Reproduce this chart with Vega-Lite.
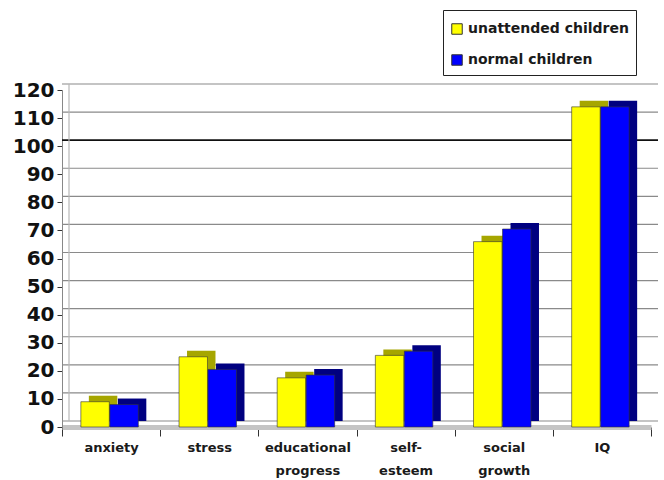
{
  "$schema": "https://vega.github.io/schema/vega-lite/v6.json",
  "width": 589,
  "height": 337,
  "autosize": {"type": "none"},
  "padding": {"left": 62, "top": 90, "right": 13, "bottom": 53},
  "background": "white",
  "config": {
    "view": {"stroke": null},
    "font": "Liberation Sans"
  },
  "datasets": {
    "bars": [
      {"category": "anxiety", "group": "unattended children", "value": 9},
      {"category": "anxiety", "group": "normal children", "value": 8},
      {"category": "stress", "group": "unattended children", "value": 25},
      {"category": "stress", "group": "normal children", "value": 20.5},
      {"category": "educational progress", "group": "unattended children", "value": 17.5},
      {"category": "educational progress", "group": "normal children", "value": 18.5},
      {"category": "self-esteem", "group": "unattended children", "value": 25.5},
      {"category": "self-esteem", "group": "normal children", "value": 27},
      {"category": "social growth", "group": "unattended children", "value": 66},
      {"category": "social growth", "group": "normal children", "value": 70.5},
      {"category": "IQ", "group": "unattended children", "value": 114},
      {"category": "IQ", "group": "normal children", "value": 114}
    ],
    "grid": [
      {"value": 0}, {"value": 10}, {"value": 20}, {"value": 30}, {"value": 40}, {"value": 50}, {"value": 60},
      {"value": 70}, {"value": 80}, {"value": 90}, {"value": 110}, {"value": 120}
    ]
  },
  "encoding": {
    "y": {
      "field": "value",
      "type": "quantitative",
      "scale": {"domain": [0, 120], "nice": false},
      "axis": {
        "title": null,
        "values": [0, 10, 20, 30, 40, 50, 60, 70, 80, 90, 100, 110, 120],
        "labelOverlap": false,
        "grid": false,
        "labelFont": "DejaVu Sans",
        "labelFontSize": 20,
        "labelFontWeight": "bold",
        "labelColor": "#111111",
        "labelPadding": 3,
        "tickSize": 5,
        "tickColor": "#333333",
        "domainColor": "#888888"
      }
    }
  },
  "layer": [
    {
      "data": {"name": "grid"},
      "mark": {"type": "rule", "color": "#8a8a8a", "strokeWidth": 1.2, "yOffset": -6, "xOffset": 7}
    },
    {
      "data": {"values": [{"value": 100}]},
      "mark": {"type": "rule", "color": "#111111", "strokeWidth": 1.8, "yOffset": -6, "xOffset": 7}
    },
    {
      "data": {"values": [{"category": "anxiety", "value": 0, "top": 120}]},
      "mark": {"type": "rule", "color": "#b8b8b8", "strokeWidth": 1.2, "xOffset": 7, "yOffset": -6, "y2Offset": -6},
      "encoding": {
        "x": {"field": "category", "type": "nominal", "bandPosition": 0, "sort": ["anxiety", "stress", "educational progress", "self-esteem", "social growth", "IQ"]},
        "y2": {"field": "top"}
      }
    },
    {
      "data": {"name": "bars"},
      "transform": [{"filter": "datum.group === 'unattended children'"}],
      "mark": {"type": "bar", "width": {"band": 0.29}, "xOffset": -8, "yOffset": -6, "y2Offset": -6, "color": "#a6a600"},
      "encoding": {
        "x": {"field": "category", "type": "nominal", "sort": ["anxiety", "stress", "educational progress", "self-esteem", "social growth", "IQ"]}
      }
    },
    {
      "data": {"name": "bars"},
      "transform": [{"filter": "datum.group === 'unattended children'"}],
      "mark": {"type": "bar", "width": {"band": 0.29}, "xOffset": -16, "stroke": "#333333", "strokeWidth": 0.6},
      "encoding": {
        "x": {"field": "category", "type": "nominal", "sort": ["anxiety", "stress", "educational progress", "self-esteem", "social growth", "IQ"]},
        "color": {"field": "group", "type": "nominal"}
      }
    },
    {
      "data": {"name": "bars"},
      "transform": [{"filter": "datum.group === 'normal children'"}],
      "mark": {"type": "bar", "width": {"band": 0.29}, "xOffset": 21, "yOffset": -6, "y2Offset": -6, "color": "#000080"},
      "encoding": {
        "x": {"field": "category", "type": "nominal", "sort": ["anxiety", "stress", "educational progress", "self-esteem", "social growth", "IQ"]}
      }
    },
    {
      "data": {"name": "bars"},
      "transform": [{"filter": "datum.group === 'normal children'"}],
      "mark": {"type": "bar", "width": {"band": 0.29}, "xOffset": 13, "stroke": "#333333", "strokeWidth": 0.6},
      "encoding": {
        "x": {
          "field": "category",
          "type": "nominal",
          "sort": ["anxiety", "stress", "educational progress", "self-esteem", "social growth", "IQ"],
          "scale": {"paddingInner": 0, "paddingOuter": 0},
          "axis": {
            "title": null,
            "labelAngle": 0,
            "labelAlign": "center",
            "labelFont": "DejaVu Sans",
            "labelFontSize": 13,
            "labelFontWeight": "bold",
            "labelColor": "#1a1a1a",
            "labelPadding": 11,
            "labelLineHeight": 23,
            "labelExpr": "datum.label === 'self-esteem' ? ['self-', 'esteem'] : split(datum.label, ' ')",
            "tickBand": "extent",
            "tickColor": "#333333",
            "tickSize": 9,
            "domainColor": "#c4c4c4",
            "domainWidth": 5,
            "grid": false
          }
        },
        "color": {
          "field": "group",
          "type": "nominal",
          "scale": {"domain": ["unattended children", "normal children"], "range": ["#ffff00", "#0000ff"]},
          "legend": {
            "title": " ",
            "titleFontSize": 1,
            "titlePadding": 4,
            "orient": "none",
            "legendX": 381,
            "legendY": -80,
            "direction": "vertical",
            "symbolType": "square",
            "symbolSize": 110,
            "symbolStrokeColor": "#000000",
            "symbolStrokeWidth": 1,
            "labelFont": "DejaVu Sans",
            "labelFontSize": 14,
            "labelFontWeight": "bold",
            "labelColor": "#1a1a1a",
            "labelOffset": 4,
            "rowPadding": 15,
            "padding": 7,
            "strokeColor": "#222222",
            "fillColor": "white",
            "labelLimit": 300
          }
        }
      }
    }
  ]
}
